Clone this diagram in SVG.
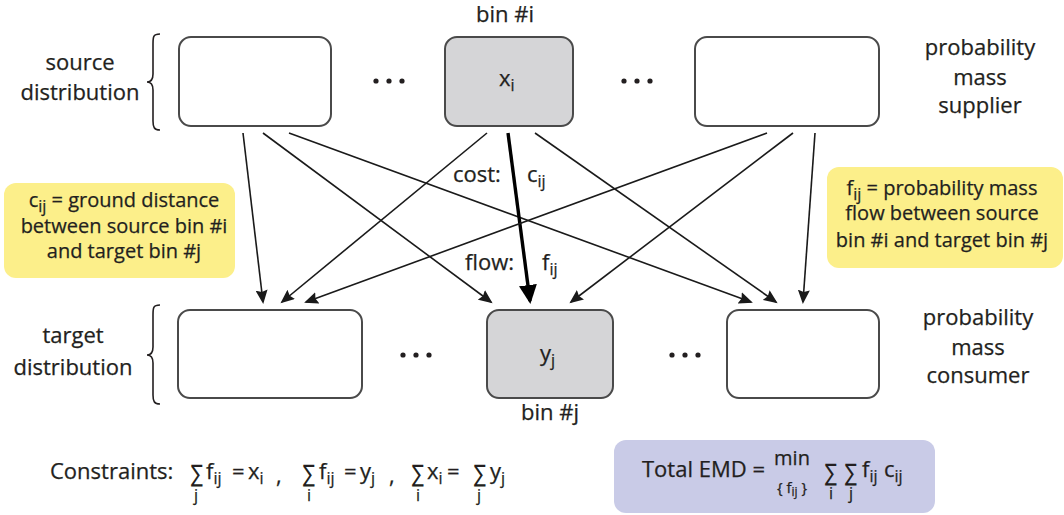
<svg xmlns="http://www.w3.org/2000/svg" width="1064" height="515" viewBox="0 0 1064 515">
<style>
.t{font-family:"Open Sans","Liberation Sans",sans-serif;font-size:22px;fill:#231f20;stroke:#231f20;stroke-width:0.25}
.m{text-anchor:middle}
.y{font-size:20px}
.s{font-size:16px}
.sig{font-family:"DejaVu Sans","Liberation Sans",sans-serif;font-size:24px;fill:#231f20}
.box{fill:#fff;stroke:#4a4a4a;stroke-width:2}
.g{fill:#d5d5d7}
.br{fill:none;stroke:#231f20;stroke-width:1.6}
.c{stroke:#1a1a1a;stroke-width:1.6;fill:none;marker-end:url(#ah)}
.ck{stroke:#000;stroke-width:3.4;fill:none;marker-end:url(#ahk)}
.dot{fill:#231f20}
</style>
<defs>
<marker id="ah" markerUnits="userSpaceOnUse" markerWidth="15" markerHeight="12" refX="12" refY="6" orient="auto"><path d="M0,0 L14,6 L0,12 L2,6 z" fill="#1a1a1a"/></marker>
<marker id="ahk" markerUnits="userSpaceOnUse" markerWidth="20" markerHeight="18" refX="16" refY="9" orient="auto"><path d="M0,0 L19,9 L0,18 z" fill="#000"/></marker>
</defs>
<rect width="1064" height="515" fill="#fff"/>

<g id="label-source">
<text class="t m" x="80" y="70">source</text>
<text class="t m" x="80" y="100">distribution</text>
<path class="br" d="M160,34 C153,34 153,37 153,44 L153,74 C153,80 151,82 147,82 C151,82 153,84 153,90 L153,121 C153,127 154,130 160,130"/>
</g>
<g id="label-target">
<text class="t m" x="73" y="343">target</text>
<text class="t m" x="73" y="375">distribution</text>
<path class="br" d="M160,305 C153,305 153,308 153,315 L153,347 C153,353 151,355 147,355 C151,355 153,357 153,363 L153,395 C153,401 154,404 160,404"/>
</g>
<g id="label-supplier">
<text class="t m" x="980" y="55">probability</text>
<text class="t m" x="980" y="85">mass</text>
<text class="t m" x="980" y="113">supplier</text>
</g>
<g id="label-consumer">
<text class="t m" x="978" y="325">probability</text>
<text class="t m" x="978" y="355">mass</text>
<text class="t m" x="978" y="383">consumer</text>
</g>

<g id="src1"><rect class="box" x="179" y="37" width="152" height="89" rx="12"/></g>
<g id="src-i">
<rect class="box g" x="445" y="37" width="128" height="89" rx="12"/>
<text class="t m" x="505" y="22">bin #i</text>
<text class="t" x="499" y="86">x<tspan class="s" dy="5">i</tspan></text>
</g>
<g id="src3"><rect class="box" x="695" y="37" width="184" height="89" rx="12"/></g>
<g id="dots-top">
<circle class="dot" cx="376" cy="81" r="2.6"/><circle class="dot" cx="389" cy="81" r="2.6"/><circle class="dot" cx="402" cy="81" r="2.6"/>
<circle class="dot" cx="624" cy="81" r="2.6"/><circle class="dot" cx="637" cy="81" r="2.6"/><circle class="dot" cx="650" cy="81" r="2.6"/>
</g>

<g id="tgt1"><rect class="box" x="178" y="310" width="184" height="88" rx="12"/></g>
<g id="tgt-j">
<rect class="box g" x="487" y="310" width="126" height="88" rx="12"/>
<text class="t" x="540" y="361">y<tspan class="s" dy="5">j</tspan></text>
<text class="t m" x="550" y="420">bin #j</text>
</g>
<g id="tgt3"><rect class="box" x="727" y="310" width="152" height="88" rx="12"/></g>
<g id="dots-bottom">
<circle class="dot" cx="403" cy="355" r="2.6"/><circle class="dot" cx="416" cy="355" r="2.6"/><circle class="dot" cx="429" cy="355" r="2.6"/>
<circle class="dot" cx="672" cy="355" r="2.6"/><circle class="dot" cx="685" cy="355" r="2.6"/><circle class="dot" cx="698" cy="355" r="2.6"/>
</g>

<g id="connectors">
<line class="c" x1="243" y1="133" x2="263" y2="302"/>
<line class="c" x1="263" y1="133" x2="491" y2="302"/>
<line class="c" x1="289" y1="133" x2="751" y2="302"/>
<line class="c" x1="487" y1="133" x2="282" y2="302"/>
<line class="ck" x1="508" y1="133" x2="530" y2="301"/>
<line class="c" x1="535" y1="133" x2="776" y2="302"/>
<line class="c" x1="767" y1="133" x2="306" y2="302"/>
<line class="c" x1="793" y1="133" x2="571" y2="302"/>
<line class="c" x1="815" y1="133" x2="803" y2="302"/>
</g>
<g id="edge-labels">
<text class="t" x="453" y="182">cost:</text>
<text class="t" x="527" y="182">c<tspan class="s" dy="5">ij</tspan></text>
<text class="t" x="465" y="270">flow:</text>
<text class="t" x="542" y="270">f<tspan class="s" dy="5">ij</tspan></text>
</g>

<g id="note-cost">
<rect x="4" y="183" width="231" height="95" rx="12" fill="#fcef8a"/>
<text class="t y m" x="124" y="207">c<tspan class="s" dy="5">ij</tspan><tspan dy="-5"> = ground distance</tspan></text>
<text class="t y m" x="124" y="233">between source bin #i</text>
<text class="t y m" x="124" y="258">and target bin #j</text>
</g>
<g id="note-flow">
<rect x="827" y="167" width="236" height="101" rx="12" fill="#fcef8a"/>
<text class="t y m" x="942" y="195">f<tspan class="s" dy="5">ij</tspan><tspan dy="-5"> = probability mass</tspan></text>
<text class="t y m" x="942" y="220">flow between source</text>
<text class="t y m" x="942" y="247">bin #i and target bin #j</text>
</g>

<g id="constraints">
<text class="t" x="50" y="479">Constraints:</text>
<text class="sig" x="191" y="482" textLength="12" lengthAdjust="spacingAndGlyphs">∑</text><text class="t s" x="194" y="501">j</text>
<text class="t" x="206" y="479">f<tspan class="s" dy="5">ij</tspan></text>
<text class="t" x="232" y="479">=</text>
<text class="t" x="248" y="479">x<tspan class="s" dy="5">i</tspan></text>
<text class="t" x="276" y="483">,</text>
<text class="sig" x="303" y="482" textLength="12" lengthAdjust="spacingAndGlyphs">∑</text><text class="t s" x="307" y="501">i</text>
<text class="t" x="319" y="479">f<tspan class="s" dy="5">ij</tspan></text>
<text class="t" x="344" y="479">=</text>
<text class="t" x="360" y="479">y<tspan class="s" dy="5">j</tspan></text>
<text class="t" x="389" y="483">,</text>
<text class="sig" x="412" y="482" textLength="12" lengthAdjust="spacingAndGlyphs">∑</text><text class="t s" x="416" y="501">i</text>
<text class="t" x="427" y="479">x<tspan class="s" dy="5">i</tspan></text>
<text class="t" x="447" y="479">=</text>
<text class="sig" x="474" y="482" textLength="12" lengthAdjust="spacingAndGlyphs">∑</text><text class="t s" x="477" y="501">j</text>
<text class="t" x="490" y="479">y<tspan class="s" dy="5">j</tspan></text>
</g>

<g id="total-emd">
<rect x="614" y="440" width="321" height="73" rx="12" fill="#c9cbe7"/>
<text class="t" x="642" y="477">Total EMD =</text>
<text class="t m" x="792" y="465" style="font-size:20px">min</text>
<text class="t m" x="792" y="493" style="font-size:15px">{ f<tspan style="font-size:12px" dy="3">ij</tspan><tspan dy="-3"> }</tspan></text>
<text class="sig" x="825" y="481" textLength="12" lengthAdjust="spacingAndGlyphs">∑</text><text class="t s" x="829" y="499">i</text>
<text class="sig" x="845" y="481" textLength="12" lengthAdjust="spacingAndGlyphs">∑</text><text class="t s" x="849" y="499">j</text>
<text class="t" x="862" y="477">f<tspan class="s" dy="5">ij</tspan></text>
<text class="t" x="884" y="477">c<tspan class="s" dy="5">ij</tspan></text>
</g>
</svg>
